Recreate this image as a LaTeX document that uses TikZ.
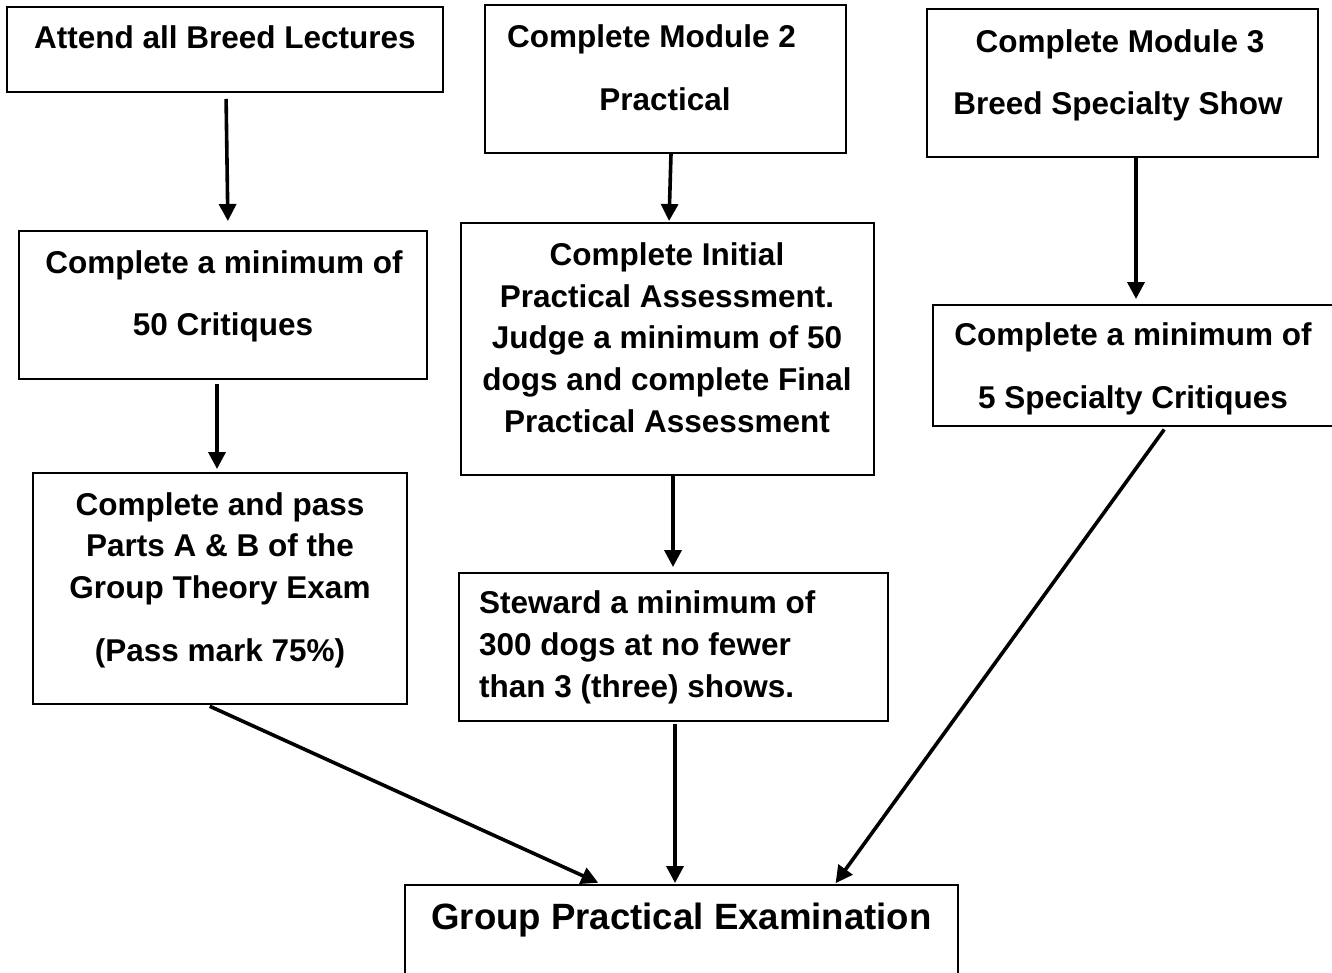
\documentclass[tikz,border=0pt]{standalone}
\usepackage{fontspec}
\setmainfont{Liberation Sans}
\usetikzlibrary{arrows.meta}
\begin{document}
\begin{tikzpicture}[x=1pt,y=-1pt,
  box/.style={draw, line width=2pt, rectangle, inner sep=0pt},
  txt/.style={anchor=base, inner sep=0pt, font=\fontsize{31.5}{38}\selectfont\bfseries},
  txtl/.style={txt, anchor=base west},
  big/.style={anchor=base, inner sep=0pt, font=\fontsize{36.6}{44}\selectfont\bfseries},
  arr/.style={line width=3.6pt, -{Triangle[length=17pt,width=17pt]}}]
\useasboundingbox (0,0) rectangle (1332,972);
\clip (0,0) rectangle (1332,972);
\fill[white] (0,0) rectangle (1332,972);

% boxes
\node[box, minimum width=436pt, minimum height=85pt]  (b1) at (225,49.5) {};
\node[box, minimum width=408pt, minimum height=148pt] (b2) at (223,305) {};
\node[box, minimum width=374pt, minimum height=231pt] (b3) at (220,588.5) {};
\node[box, minimum width=361pt, minimum height=148pt] (b4) at (665.5,79) {};
\node[box, minimum width=413pt, minimum height=252pt] (b5) at (667.5,349) {};
\node[box, minimum width=429pt, minimum height=148pt] (b6) at (673.5,647) {};
\node[box, minimum width=391pt, minimum height=148pt] (b7) at (1122.5,83) {};
\node[box, minimum width=412pt, minimum height=121pt] (b8) at (1139,365.5) {};
\node[box, minimum width=553pt, minimum height=115pt] (b9) at (681.5,942.5) {};

% texts
\node[txt] (t1)  at (225,48) {Attend all Breed Lectures};
\node[txt] (t2a) at (224,273) {Complete a minimum of};
\node[txt] (t2b) at (223,335) {50 Critiques};
\node[txt] (t3a) at (220,515) {Complete and pass};
\node[txt] (t3b) at (220,556) {Parts A \& B of the};
\node[txt] (t3c) at (220,598) {Group Theory Exam};
\node[txt] (t3d) at (220,661) {(Pass mark 75\%)};
\node[txt] (t4a) at (651.5,47) {Complete Module 2};
\node[txt] (t4b) at (665,110) {Practical};
\node[txt] (t5a) at (667,265) {Complete Initial};
\node[txt] (t5b) at (667,307) {Practical Assessment.};
\node[txt] (t5c) at (667,348) {Judge a minimum of 50};
\node[txt] (t5d) at (667,390) {dogs and complete Final};
\node[txt] (t5e) at (667,432) {Practical Assessment};
\node[txtl] (t6a) at (479,613) {Steward a minimum of};
\node[txtl] (t6b) at (479,655) {300 dogs at no fewer};
\node[txtl] (t6c) at (479,697) {than 3 (three) shows.};
\node[txt] (t7a) at (1120,52) {Complete Module 3};
\node[txt] (t7b) at (1118,114) {Breed Specialty Show};
\node[txt] (t8a) at (1133,345) {Complete a minimum of};
\node[txt] (t8b) at (1133,408) {5 Specialty Critiques};
\node[big] (t9) at (681.5,929) {Group Practical Examination};

% arrows
\draw[arr, shorten <=6pt, shorten >=9pt] ([xshift=1pt]b1.south) -- ([xshift=5pt]b2.north);
\draw[arr, shorten <=4pt, shorten >=3pt] ([xshift=-6pt]b2.south) -- ([xshift=-3pt]b3.north);
\draw[arr, shorten >=1pt] ([xshift=5.5pt]b4.south) -- ([xshift=1.5pt]b5.north);
\draw[arr, shorten >=5pt] ([xshift=5.5pt]b5.south) -- ([xshift=-0.5pt]b6.north);
\draw[arr, shorten >=5pt] ([xshift=13.5pt]b7.south) -- ([xshift=-3pt]b8.north);
\draw[arr, shorten <=3pt, shorten >=3pt] ([xshift=-13pt]b3.south) -- ([xshift=197pt]b9.north west);
\draw[arr, shorten <=2pt, shorten >=1pt] ([xshift=1.5pt]b6.south) -- ([xshift=-6.5pt]b9.north);
\draw[arr, shorten <=3pt, shorten >=1pt] ([xshift=27pt]b8.south) -- ([xshift=-124pt]b9.north east);
\end{tikzpicture}
\end{document}
